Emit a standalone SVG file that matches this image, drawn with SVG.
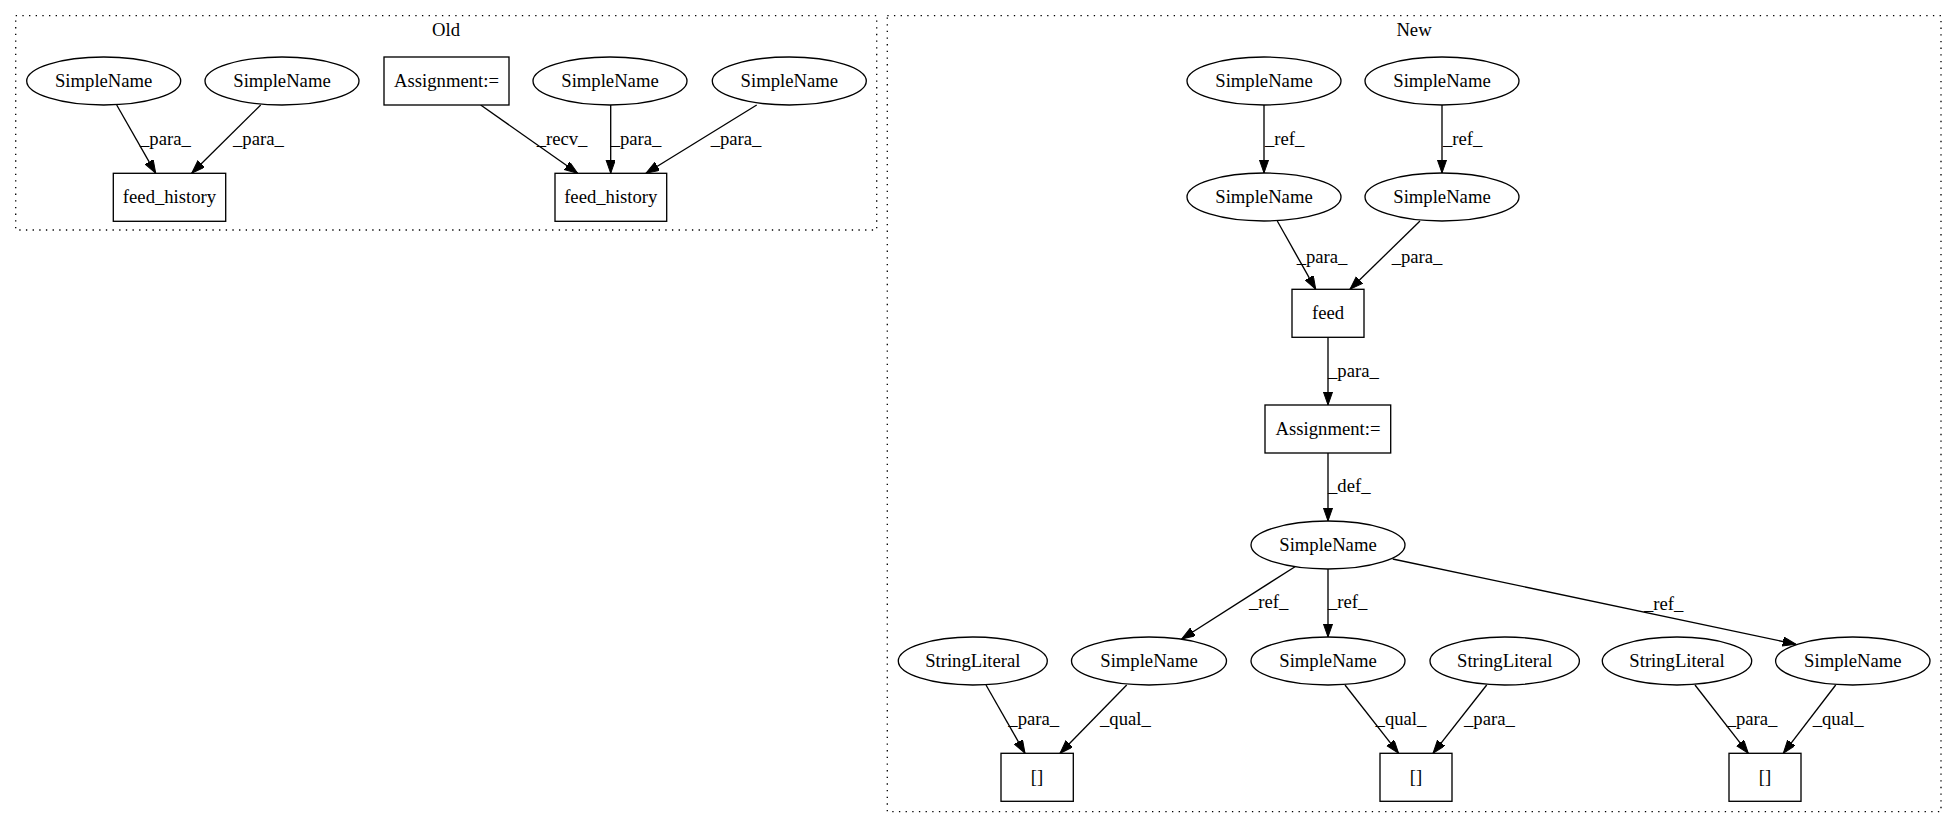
<svg xmlns="http://www.w3.org/2000/svg" width="1957" height="828" viewBox="0 0 1957 828">
<style>
text{font-family:'Liberation Serif','DejaVu Serif',serif;font-size:18.67px;fill:#000}
.n{text-anchor:middle}
.node ellipse,.node rect{fill:#fff;stroke:#000;stroke-width:1.33}
.cl{fill:none;stroke:#000;stroke-width:1.33;stroke-dasharray:1.33,5.33}
.e line{stroke:#000;stroke-width:1.33;marker-end:url(#ah)}
</style>
<defs>
<marker id="ah" markerUnits="userSpaceOnUse" markerWidth="14" markerHeight="10" refX="13.3" refY="4.67" orient="auto">
<path d="M0,0 L13.3,4.67 L0,9.33 z" fill="#000" stroke="#000" stroke-width="1"/>
</marker>
</defs>
<rect width="1957" height="828" fill="#fff"/>
<g id="clusters">
<rect class="cl" x="15.7" y="15.7" width="861" height="214.3"/>
<text class="n" x="446" y="36">Old</text>
<rect class="cl" x="887.3" y="15.7" width="1053.7" height="796"/>
<text class="n" x="1414" y="36">New</text>
</g>
<g id="connectors" class="e">
<line x1="116.7" y1="105" x2="155.7" y2="173.3"/>
<line x1="260.7" y1="105" x2="191.7" y2="173.3"/>
<line x1="480.7" y1="105" x2="577.7" y2="173.3"/>
<line x1="610.7" y1="105" x2="610.7" y2="173.3"/>
<line x1="756.7" y1="105" x2="646" y2="173.3"/>
<line x1="1264" y1="105" x2="1264" y2="173"/>
<line x1="1442" y1="105" x2="1442" y2="173"/>
<line x1="1277.3" y1="221" x2="1315.7" y2="289.3"/>
<line x1="1420" y1="221" x2="1350" y2="289.3"/>
<line x1="1328" y1="337" x2="1328" y2="405"/>
<line x1="1328" y1="453" x2="1328" y2="521"/>
<line x1="1295" y1="566.7" x2="1181.7" y2="639"/>
<line x1="1328" y1="569" x2="1328" y2="637"/>
<line x1="1392.7" y1="559" x2="1796" y2="644.3"/>
<line x1="986" y1="685" x2="1025" y2="753.3"/>
<line x1="1126.7" y1="685" x2="1060" y2="753.3"/>
<line x1="1345" y1="685" x2="1398.6" y2="753.3"/>
<line x1="1486.7" y1="685" x2="1433" y2="753.3"/>
<line x1="1695" y1="685" x2="1748.3" y2="753.3"/>
<line x1="1835.7" y1="685" x2="1783.3" y2="753.3"/>
</g>
<g id="edge-labels">
<text x="140" y="145">_para_</text>
<text x="233" y="145">_para_</text>
<text x="536.7" y="145">_recv_</text>
<text x="610.7" y="145">_para_</text>
<text x="710.7" y="145">_para_</text>
<text x="1265" y="145">_ref_</text>
<text x="1443" y="145">_ref_</text>
<text x="1296.7" y="263">_para_</text>
<text x="1391.7" y="263">_para_</text>
<text x="1328" y="377">_para_</text>
<text x="1328" y="492">_def_</text>
<text x="1249" y="608">_ref_</text>
<text x="1328" y="608">_ref_</text>
<text x="1644" y="610">_ref_</text>
<text x="1008.3" y="725">_para_</text>
<text x="1100" y="725">_qual_</text>
<text x="1375.6" y="725">_qual_</text>
<text x="1464" y="725">_para_</text>
<text x="1726.7" y="725">_para_</text>
<text x="1812.7" y="725">_qual_</text>
</g>
<g id="old_sn1" class="node"><ellipse cx="103.7" cy="81" rx="77" ry="24"/><text class="n" x="103.7" y="87">SimpleName</text></g>
<g id="old_sn2" class="node"><ellipse cx="282" cy="81" rx="77" ry="24"/><text class="n" x="282" y="87">SimpleName</text></g>
<g id="old_assign" class="node"><rect x="384" y="57" width="125" height="48"/><text class="n" x="446.5" y="87">Assignment:=</text></g>
<g id="old_sn3" class="node"><ellipse cx="610" cy="81" rx="77" ry="24"/><text class="n" x="610" y="87">SimpleName</text></g>
<g id="old_sn4" class="node"><ellipse cx="789.3" cy="81" rx="77" ry="24"/><text class="n" x="789.3" y="87">SimpleName</text></g>
<g id="old_fh1" class="node"><rect x="113.3" y="173.3" width="112.4" height="48"/><text class="n" x="169.5" y="203">feed_history</text></g>
<g id="old_fh2" class="node"><rect x="555" y="173.3" width="111.7" height="48"/><text class="n" x="610.8" y="203">feed_history</text></g>
<g id="new_a1" class="node"><ellipse cx="1264" cy="81" rx="77" ry="24"/><text class="n" x="1264" y="87">SimpleName</text></g>
<g id="new_a2" class="node"><ellipse cx="1442" cy="81" rx="77" ry="24"/><text class="n" x="1442" y="87">SimpleName</text></g>
<g id="new_b1" class="node"><ellipse cx="1264" cy="197" rx="77" ry="24"/><text class="n" x="1264" y="203">SimpleName</text></g>
<g id="new_b2" class="node"><ellipse cx="1442" cy="197" rx="77" ry="24"/><text class="n" x="1442" y="203">SimpleName</text></g>
<g id="new_feed" class="node"><rect x="1292" y="289.3" width="72" height="48"/><text class="n" x="1328" y="319">feed</text></g>
<g id="new_assign" class="node"><rect x="1265" y="405" width="125.7" height="48"/><text class="n" x="1328" y="435">Assignment:=</text></g>
<g id="new_c" class="node"><ellipse cx="1328" cy="545" rx="77" ry="24"/><text class="n" x="1328" y="551">SimpleName</text></g>
<g id="new_sl1" class="node"><ellipse cx="972.8" cy="661" rx="74.5" ry="24"/><text class="n" x="972.8" y="667">StringLiteral</text></g>
<g id="new_d1" class="node"><ellipse cx="1149" cy="661" rx="77.5" ry="24"/><text class="n" x="1149" y="667">SimpleName</text></g>
<g id="new_d2" class="node"><ellipse cx="1328" cy="661" rx="77" ry="24"/><text class="n" x="1328" y="667">SimpleName</text></g>
<g id="new_sl2" class="node"><ellipse cx="1504.7" cy="661" rx="74.7" ry="24"/><text class="n" x="1504.7" y="667">StringLiteral</text></g>
<g id="new_sl3" class="node"><ellipse cx="1677" cy="661" rx="74.7" ry="24"/><text class="n" x="1677" y="667">StringLiteral</text></g>
<g id="new_d3" class="node"><ellipse cx="1852.8" cy="661" rx="77.2" ry="24"/><text class="n" x="1852.8" y="667">SimpleName</text></g>
<g id="new_box1" class="node"><rect x="1001" y="753.3" width="72.3" height="48"/><text class="n" x="1037" y="783">[]</text></g>
<g id="new_box2" class="node"><rect x="1380" y="753.3" width="72" height="48"/><text class="n" x="1416" y="783">[]</text></g>
<g id="new_box3" class="node"><rect x="1729" y="753.3" width="72" height="48"/><text class="n" x="1765" y="783">[]</text></g>
</svg>
